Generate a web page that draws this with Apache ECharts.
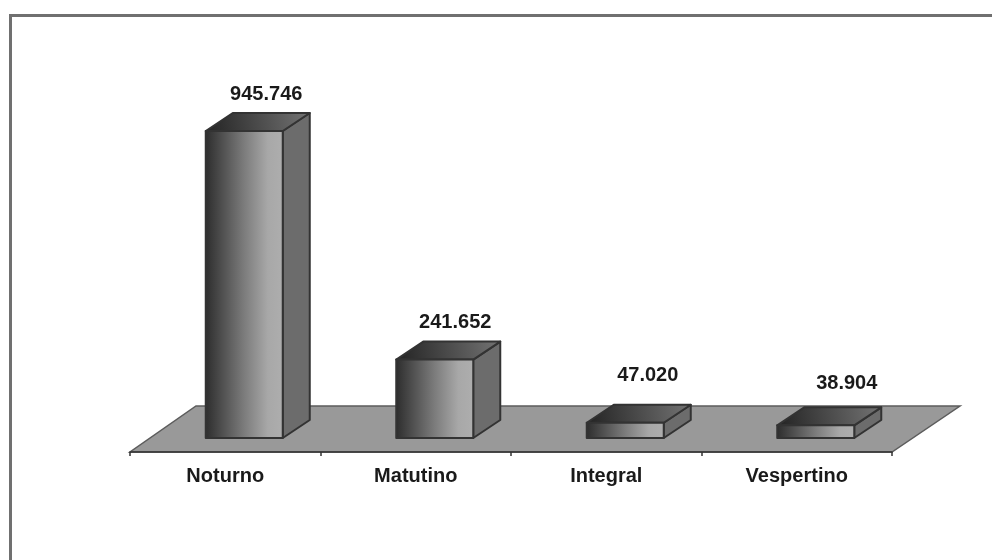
<!DOCTYPE html>
<html>
<head>
<meta charset="utf-8">
<style>html,body{margin:0;padding:0;background:#fff}#c{width:992px;height:560px}</style>
<script src="https://cdn.jsdelivr.net/npm/echarts@6/dist/echarts.min.js"></script>
</head>
<body>
<div id="c"></div>
<script>
// Enrolment by shift, drawn as pseudo-3D columns standing on a grey floor.
const categories = ['Noturno', 'Matutino', 'Integral', 'Vespertino'];
const values = [945746, 241652, 47020, 38904];
const valueLabels = ['945.746', '241.652', '47.020', '38.904'];

// Styling of the oblique projection
const depthX = 27, depthY = 18;
const labelShifts = [[-5, 1], [-6.5, 1], [-4.5, -9], [4, -4]];
const columnWidth = 77, columnShift = 19;
const edge = '#333333';
const fontFamily = '"Liberation Sans", Arial, sans-serif';

const frontFill = {
  type: 'linear', x: 0, y: 0, x2: 1, y2: 0,
  colorStops: [
    { offset: 0, color: '#2c2c2c' },
    { offset: 0.5, color: '#7c7c7c' },
    { offset: 0.8, color: '#a8a8a8' },
    { offset: 1, color: '#aeaeae' }
  ]
};
const topFill = {
  type: 'linear', x: 0, y: 1, x2: 1, y2: 0,
  colorStops: [
    { offset: 0, color: '#222222' },
    { offset: 1, color: '#747474' }
  ]
};

function renderFloor(params, api) {
  const g = params.coordSys;
  const base = api.coord([0, 0])[1];
  const front = base + 14, back = base - 32;
  return {
    type: 'polygon',
    silent: true,
    shape: { points: [
      [g.x, front], [g.x + g.width, front],
      [g.x + g.width + 68, back], [g.x + 66, back]
    ] },
    style: { fill: '#999999', stroke: '#5c5c5c', lineWidth: 1.5 }
  };
}

function renderColumn(params, api) {
  const i = api.value(0);
  const top = api.coord([i, api.value(1)]);
  const base = api.coord([i, 0]);
  const x0 = top[0] + columnShift - columnWidth / 2;
  const x1 = x0 + columnWidth;
  const y0 = top[1], y1 = base[1];
  const stroke = { stroke: edge, lineWidth: 2, lineJoin: 'round' };
  const shift = labelShifts[i];
  return {
    type: 'group',
    children: [
      { type: 'polygon',
        shape: { points: [[x1, y0], [x1 + depthX, y0 - depthY], [x1 + depthX, y1 - depthY], [x1, y1]] },
        style: { fill: '#6c6c6c', ...stroke } },
      { type: 'polygon',
        shape: { points: [[x0, y0], [x0 + depthX, y0 - depthY], [x1 + depthX, y0 - depthY], [x1, y0]] },
        style: { fill: topFill, ...stroke } },
      { type: 'rect',
        shape: { x: x0, y: y0, width: columnWidth, height: y1 - y0 },
        style: { fill: frontFill, ...stroke } },
      { type: 'text',
        style: {
          text: valueLabels[i],
          x: top[0] + columnShift + depthX + shift[0],
          y: y0 - depthY - 20 + shift[1],
          align: 'center', verticalAlign: 'middle',
          font: 'bold 20px ' + fontFamily,
          fill: '#1a1a1a'
        } }
    ]
  };
}

const chart = echarts.init(document.getElementById('c'), null, { renderer: 'canvas' });
chart.setOption({
  animation: false,
  backgroundColor: '#ffffff',
  graphic: [{
    type: 'polyline',
    silent: true,
    shape: { points: [[10.5, 560], [10.5, 15.5], [992, 15.5]] },
    style: { fill: null, stroke: '#707070', lineWidth: 3 }
  }],
  grid: { left: 130, right: 100, top: 113.4, bottom: 122 },
  xAxis: {
    type: 'category',
    data: categories,
    offset: 14,
    z: 3,
    axisLine: { onZero: false, lineStyle: { color: '#333333', width: 1.5 } },
    axisTick: { show: true, alignWithLabel: false, length: 4, lineStyle: { color: '#333333', width: 1.5 } },
    axisLabel: { color: '#1a1a1a', fontWeight: 'bold', fontSize: 20, fontFamily, margin: 14 }
  },
  yAxis: { type: 'value', min: 0, max: 1000000, show: false, splitLine: { show: false } },
  series: [
    { type: 'custom', data: [[0, 0]], renderItem: renderFloor, silent: true, z: 1 },
    { type: 'custom', data: values.map((v, i) => [i, v]), renderItem: renderColumn, z: 2,
      encode: { x: 0, y: 1 } }
  ]
});
</script>
</body>
</html>
